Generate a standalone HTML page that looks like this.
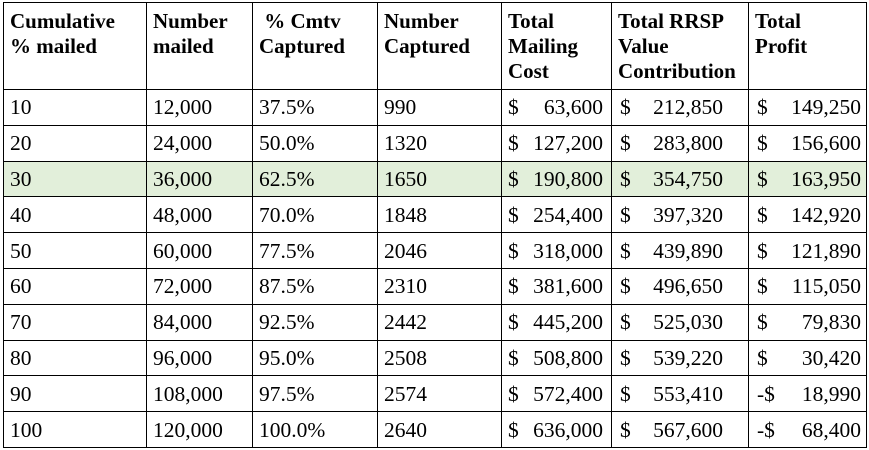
<!DOCTYPE html>
<html><head><meta charset="utf-8"><style>
body{margin:0;background:#fff;width:869px;height:450px;overflow:hidden}
table{position:absolute;left:3px;top:2px;border-collapse:collapse;table-layout:fixed;font-family:"Liberation Serif",serif;font-size:21.5px;color:#000}
td,th{border:1px solid #000;padding:0 0 0 6px;text-align:left;vertical-align:middle;white-space:nowrap;overflow:hidden}
th{vertical-align:top;font-weight:bold;font-size:21px;line-height:25px;padding-top:6px;height:80px}
tr.d td{height:34.8px;line-height:24px}
tr.hl td{background:#e2efda}
.m{display:flex;justify-content:space-between}
.c5 .m{padding-right:8px}
.c6 .m{padding-right:25px;padding-left:2px}
.c7 .m{padding-right:5px;padding-left:2px}
</style></head><body>
<table>
<colgroup><col style="width:143px"><col style="width:106px"><col style="width:125px"><col style="width:124px"><col style="width:110px"><col style="width:137px"><col style="width:118px"></colgroup>
<tr>
<th>Cumulative<br>% mailed</th>
<th>Number<br>mailed</th>
<th>&nbsp;% Cmtv<br>Captured</th>
<th>Number<br>Captured</th>
<th>Total<br>Mailing<br>Cost</th>
<th>Total RRSP<br>Value<br>Contribution</th>
<th>Total<br>Profit</th>
</tr>
<tbody id="body"></tbody>
</table>
<script>
const pcts=["10","20","30","40","50","60","70","80","90","100"];
const mailed=["12,000","24,000","36,000","48,000","60,000","72,000","84,000","96,000","108,000","120,000"];
const captPct=["37.5%","50.0%","62.5%","70.0%","77.5%","87.5%","92.5%","95.0%","97.5%","100.0%"];
const captured=["990","1320","1650","1848","2046","2310","2442","2508","2574","2640"];
const cost=["63,600","127,200","190,800","254,400","318,000","381,600","445,200","508,800","572,400","636,000"];
const rrsp=["212,850","283,800","354,750","397,320","439,890","496,650","525,030","539,220","553,410","567,600"];
const profit=["149,250","156,600","163,950","142,920","121,890","115,050","79,830","30,420","-18,990","-68,400"];
const tb=document.getElementById('body');
for(let i=0;i<pcts.length;i++){
  const tr=document.createElement('tr');
  tr.className='d'+(i===2?' hl':'');
  
  
  const neg=profit[i].startsWith('-');
  const cells=[pcts[i],mailed[i],captPct[i],captured[i],
    '<div class="m"><span>$</span><span>'+cost[i]+'</span></div>',
    '<div class="m"><span>$</span><span>'+rrsp[i]+'</span></div>',
    '<div class="m"><span>'+(neg?'-$':'$')+'</span><span>'+profit[i].replace('-','')+'</span></div>'];
  cells.forEach((c,j)=>{
    const td=document.createElement('td');
    td.className='c'+(j+1);
    
    
    td.innerHTML=c;
    tr.appendChild(td);
  });
  tb.appendChild(tr);
}
</script>
</body></html>
